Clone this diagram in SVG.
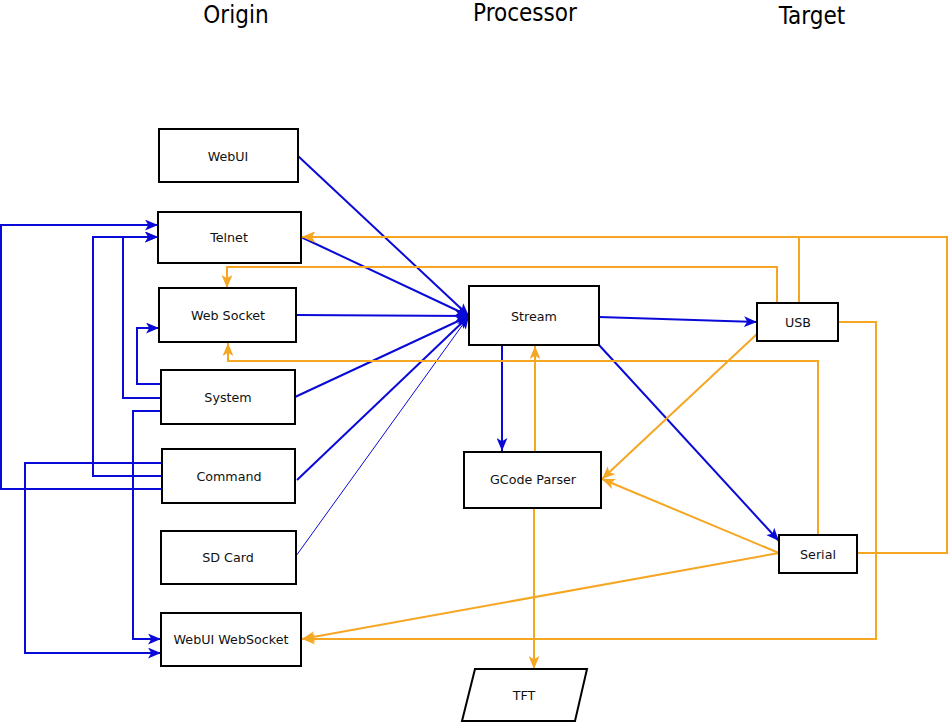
<svg xmlns="http://www.w3.org/2000/svg" width="950" height="725" viewBox="0 0 950 725">
<style>
.box{fill:#fff;stroke:#000;stroke-width:2}
.lbl{font-family:"DejaVu Sans","Liberation Sans",sans-serif;font-size:12.7px;fill:#111;text-anchor:middle;dominant-baseline:central}
.ttl{font-family:"DejaVu Sans Condensed","DejaVu Sans","Liberation Sans",sans-serif;font-size:24px;fill:#000;text-anchor:middle}
.b{fill:none;stroke:#0a0ad8;stroke-width:2}
.o{fill:none;stroke:#f5a623;stroke-width:2}
.bt{fill:none;stroke:#0a0ad8;stroke-width:1}
</style>
<defs>
<marker id="ab" viewBox="0 0 12 10" refX="12" refY="5" markerWidth="13" markerHeight="11" markerUnits="userSpaceOnUse" orient="auto">
<path d="M0,0 L12,5 L0,10 L3,5 z" fill="#0a0ad8"/>
</marker>
<marker id="ao" viewBox="0 0 12 10" refX="12" refY="5" markerWidth="13" markerHeight="11" markerUnits="userSpaceOnUse" orient="auto">
<path d="M0,0 L12,5 L0,10 L3,5 z" fill="#f5a623"/>
</marker>
</defs>
<rect width="950" height="725" fill="#fff"/>
<g id="titles">
<text class="ttl" x="236" y="23">Origin</text>
<text class="ttl" x="525" y="21">Processor</text>
<text class="ttl" x="812" y="24">Target</text>
</g>
<g id="connectors">
<path class="b" d="M298,156 L469,316" marker-end="url(#ab)"/>
<path class="b" d="M301,237 L469,316" marker-end="url(#ab)"/>
<path class="b" d="M296,315 L469,316" marker-end="url(#ab)"/>
<path class="b" d="M295,397 L469,316" marker-end="url(#ab)"/>
<path class="b" d="M297,480 L469,316" marker-end="url(#ab)"/>
<path class="bt" d="M296,556 L469,316" marker-end="url(#ab)"/>
<path class="b" d="M599,317 L757,322" marker-end="url(#ab)"/>
<path class="b" d="M599,345 L779,541" marker-end="url(#ab)"/>
<path class="b" d="M502,345 L502,451" marker-end="url(#ab)"/>
<path class="b" d="M161,384 H137 V328 H159" marker-end="url(#ab)"/>
<path class="b" d="M161,398 H123 V237 H158" marker-end="url(#ab)"/>
<path class="b" d="M161,411 H133 V639 H161" marker-end="url(#ab)"/>
<path class="b" d="M162,463 H25 V653 H161" marker-end="url(#ab)"/>
<path class="b" d="M162,476 H93 V237 H158" marker-end="url(#ab)"/>
<path class="b" d="M162,489 H1 V225 H158" marker-end="url(#ab)"/>
<path class="o" d="M799,303 V237 H302" marker-end="url(#ao)"/>
<path class="o" d="M857,553 H947 V237 H302" marker-end="url(#ao)"/>
<path class="o" d="M777,303 V267 H227 V288" marker-end="url(#ao)"/>
<path class="o" d="M818,535 V361 H228 V343" marker-end="url(#ao)"/>
<path class="o" d="M838,322 H876 V639 H302" marker-end="url(#ao)"/>
<path class="o" d="M757,334 L602,479" marker-end="url(#ao)"/>
<path class="o" d="M779,553 L602,479" marker-end="url(#ao)"/>
<path class="o" d="M779,553 L302,639" marker-end="url(#ao)"/>
<path class="o" d="M535,452 V346" marker-end="url(#ao)"/>
<path class="o" d="M534,508 V669" marker-end="url(#ao)"/>
</g>
<g id="webui"><rect class="box" x="159" y="129" width="139" height="53"/><text class="lbl" x="228" y="156">WebUI</text></g>
<g id="telnet"><rect class="box" x="158" y="212" width="143" height="51"/><text class="lbl" x="229" y="237">Telnet</text></g>
<g id="websocket"><rect class="box" x="159" y="288" width="137" height="54"/><text class="lbl" x="228" y="315">Web Socket</text></g>
<g id="system"><rect class="box" x="161" y="370" width="134" height="54"/><text class="lbl" x="228" y="397">System</text></g>
<g id="command"><rect class="box" x="162" y="449" width="133" height="54"/><text class="lbl" x="229" y="476">Command</text></g>
<g id="sdcard"><rect class="box" x="161" y="531" width="135" height="53"/><text class="lbl" x="228" y="557">SD Card</text></g>
<g id="webuiwebsocket"><rect class="box" x="161" y="613" width="140" height="53"/><text class="lbl" x="231" y="639">WebUI WebSocket</text></g>
<g id="stream"><rect class="box" x="469" y="286" width="130" height="59"/><text class="lbl" x="534" y="316">Stream</text></g>
<g id="gcodeparser"><rect class="box" x="464" y="452" width="137" height="56"/><text class="lbl" x="533" y="479">GCode Parser</text></g>
<g id="usb"><rect class="box" x="757" y="303" width="81" height="38"/><text class="lbl" x="798" y="322">USB</text></g>
<g id="serial"><rect class="box" x="779" y="535" width="78" height="38"/><text class="lbl" x="818" y="554">Serial</text></g>
<g id="tft"><polygon class="box" points="475,669 587,669 575,721 462,721"/><text class="lbl" x="524" y="695">TFT</text></g>
</svg>
